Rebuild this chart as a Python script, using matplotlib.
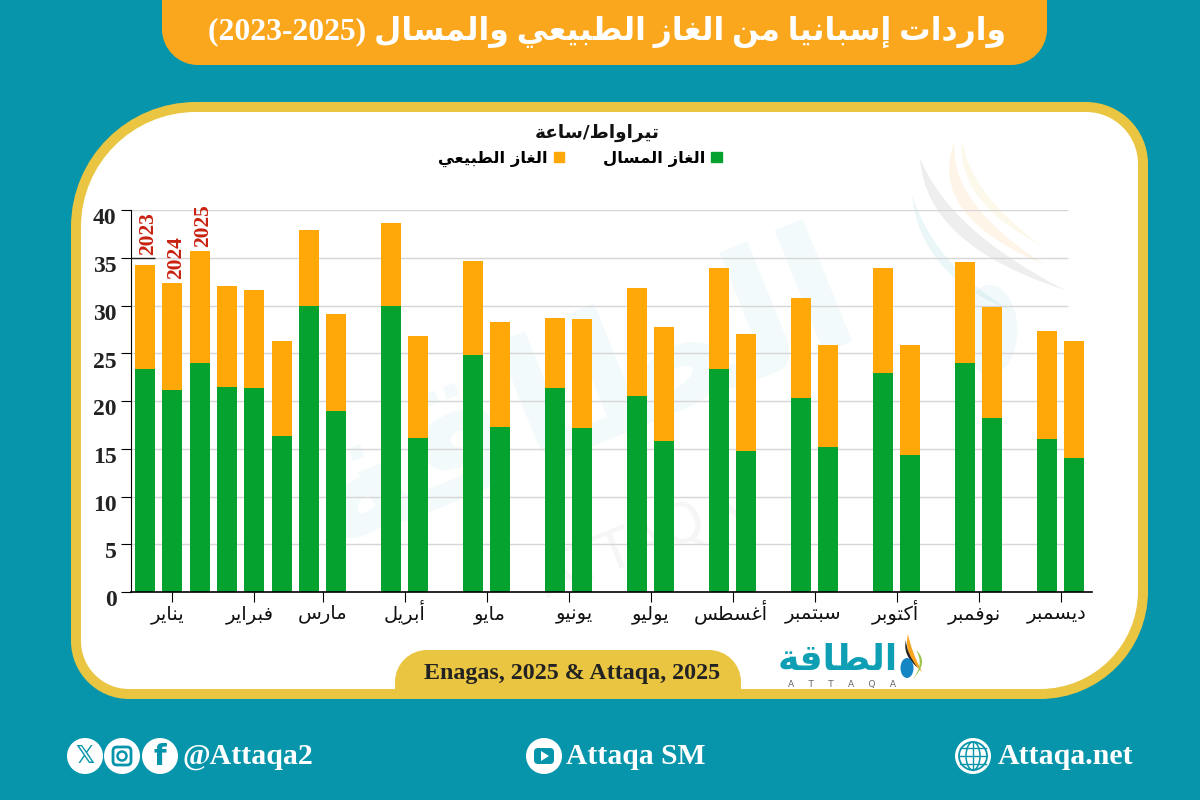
import numpy as np
import matplotlib
matplotlib.use('Agg')
import matplotlib.pyplot as plt
from matplotlib.path import Path
from matplotlib.patches import PathPatch, Circle, Ellipse, Patch, FancyBboxPatch, Polygon
from matplotlib.transforms import ScaledTranslation

# data
months = ['يناير', 'فبراير', 'مارس', 'أبريل', 'مايو', 'يونيو', 'يوليو',
          'أغسطس', 'سبتمبر', 'أكتوبر', 'نوفمبر', 'ديسمبر']
month_bars = [3, 3, 2, 2, 2, 2, 2, 2, 2, 2, 2, 2]
month_gap = [0, 0, 1, 1, 1, 1, 1, 1, 1, 1, 1, 1]
lng = [23.3, 21.1, 24.0, 21.5, 21.4, 16.3, 29.9, 19.0, 30.0, 16.1, 24.8, 17.3, 21.4,
       17.2, 20.5, 15.8, 23.4, 14.8, 20.3, 15.2, 22.9, 14.3, 24.0, 18.2, 16.0, 14.0]
gas = [10.9, 11.3, 11.7, 10.5, 10.2, 10.0, 8.0, 10.1, 8.6, 10.7, 9.9, 11.0, 7.3,
       11.4, 11.3, 11.9, 10.5, 12.2, 10.5, 10.7, 11.0, 11.6, 10.6, 11.6, 11.3, 12.3]
year_labels = ['2023', '2024', '2025']
year_pad = [7.5, 2.5, 3]
yticks = [0, 5, 10, 15, 20, 25, 30, 35, 40]
# month labels do not sit exactly under their ticks in the original (px)
label_shift = [-5, -5, 0, 0, 3, 6, 0, -2, -2, -1, -4, -4]

title = 'واردات إسبانيا من الغاز الطبيعي والمسال (2023-2025)'
unit = 'تيراواط/ساعة'
lng_name = 'الغاز المسال'
gas_name = 'الغاز الطبيعي'
source = 'Enagas, 2025 & Attaqa, 2025'

TEAL = '#0795AB'
GOLD = '#E9C541'
TITLE_BG = '#FBA71E'
GREEN = '#06A22F'
ORANGE = '#FFA807'
SERIF = 'Liberation Serif'

# matplotlib does no arabic shaping, so pick the presentation forms by hand
# letter: (isolated form, number of forms)
forms = {'ا': (0xFE8D, 2), 'أ': (0xFE83, 2), 'إ': (0xFE87, 2), 'ب': (0xFE8F, 4), 'ة': (0xFE93, 2),
         'ت': (0xFE95, 4), 'د': (0xFEA9, 2), 'ر': (0xFEAD, 2), 'ز': (0xFEAF, 2), 'س': (0xFEB1, 4),
         'ط': (0xFEC1, 4), 'ع': (0xFEC9, 4), 'غ': (0xFECD, 4), 'ف': (0xFED1, 4), 'ق': (0xFED5, 4),
         'ك': (0xFED9, 4), 'ل': (0xFEDD, 4), 'م': (0xFEE1, 4), 'ن': (0xFEE5, 4), 'و': (0xFEED, 2),
         'ي': (0xFEF1, 4)}

def shape_word(word):
    out = []
    for i, c in enumerate(word):
        if c not in forms:
            out.append(c)
            continue
        base, n = forms[c]
        prev_joins = i > 0 and word[i - 1] in forms and forms[word[i - 1]][1] == 4
        next_joins = i < len(word) - 1 and word[i + 1] in forms
        if n == 2:
            out.append(chr(base + 1 if prev_joins else base))
        elif prev_joins and next_joins:
            out.append(chr(base + 3))
        elif prev_joins:
            out.append(chr(base + 1))
        elif next_joins:
            out.append(chr(base + 2))
        else:
            out.append(chr(base))
    return ''.join(out[::-1])

def ar(text):
    words = [shape_word(w) if any(c in forms for c in w) else w for w in text.split(' ')]
    return ' '.join(words[::-1])

def round_box(x0, y0, x1, y1, tl, tr, br, bl):
    # y goes down, pixel coordinates of the background axes
    k = 0.5523
    v = [(x0 + tl, y0), (x1 - tr, y0),
         (x1 - tr + k * tr, y0), (x1, y0 + tr - k * tr), (x1, y0 + tr),
         (x1, y1 - br),
         (x1, y1 - br + k * br), (x1 - br + k * br, y1), (x1 - br, y1),
         (x0 + bl, y1),
         (x0 + bl - k * bl, y1), (x0, y1 - bl + k * bl), (x0, y1 - bl),
         (x0, y0 + tl),
         (x0, y0 + tl - k * tl), (x0 + tl - k * tl, y0), (x0 + tl, y0)]
    c = [Path.MOVETO, Path.LINETO, Path.CURVE4, Path.CURVE4, Path.CURVE4, Path.LINETO,
         Path.CURVE4, Path.CURVE4, Path.CURVE4, Path.LINETO, Path.CURVE4, Path.CURVE4, Path.CURVE4,
         Path.LINETO, Path.CURVE4, Path.CURVE4, Path.CURVE4]
    return Path(v, c)

def swoosh(ax, x0, y0, cx, cy, x1, y1, width, color, alpha, z=1):
    v = [(x0, y0), (cx, cy), (x1, y1), (cx + width, cy - width * 0.6), (x0, y0)]
    c = [Path.MOVETO, Path.CURVE3, Path.CURVE3, Path.CURVE3, Path.CURVE3]
    ax.add_patch(PathPatch(Path(v, c), fc=color, ec='none', alpha=alpha, zorder=z))

fig = plt.figure(figsize=(12, 8), dpi=100, facecolor=TEAL)

# background layer in pixels
bg = fig.add_axes([0, 0, 1, 1])
bg.set_xlim(0, 1200)
bg.set_ylim(800, 0)
bg.axis('off')

bg.add_patch(PathPatch(round_box(71, 102, 1148, 699, 125, 62, 108, 58), fc=GOLD, ec='none', zorder=0))
bg.add_patch(PathPatch(round_box(81, 112, 1138, 689, 115, 52, 98, 48), fc='white', ec='none', zorder=0.5))
bg.add_patch(PathPatch(round_box(162, -40, 1047, 65, 10, 10, 36, 36), fc=TITLE_BG, ec='none', zorder=1))
bg.text(607, 32, ar(title), family=[SERIF, 'DejaVu Sans'], weight='bold', fontsize=22.7, color='white',
        ha='center', va='center', zorder=3)

# watermark
bg.text(580, 395, ar('الطاقة'), family='DejaVu Sans', weight='bold', fontsize=125, color='#0795AB',
        alpha=0.05, rotation=22, ha='center', va='center', zorder=1)
bg.text(640, 545, 'ATTAQA', family='DejaVu Sans', fontsize=40, color='#888888',
        alpha=0.08, rotation=22, ha='center', va='center', zorder=1)
swoosh(bg, 955, 140, 925, 215, 1045, 265, 22, '#F9A51E', 0.10)
swoosh(bg, 962, 140, 955, 200, 1040, 245, 14, '#EAC542', 0.10)
swoosh(bg, 920, 158, 925, 245, 1065, 290, 24, '#777777', 0.12)
swoosh(bg, 912, 195, 920, 275, 1010, 310, 15, '#0795AB', 0.08)
bg.add_patch(Ellipse((990, 330), 55, 90, fc='#0795AB', ec='none', alpha=0.05, zorder=1))

# source tab and logo
bg.add_patch(PathPatch(round_box(395, 650, 741, 689, 32, 32, 0, 0), fc=GOLD, ec='none', zorder=1))
bg.text(572, 673, source, family=SERIF, weight='bold', fontsize=17.3, color='#222222',
        ha='center', va='center', zorder=3)
bg.text(838, 670, ar('الطاقة'), family='DejaVu Sans', weight='bold', fontsize=26, color='#0E9FB4',
        ha='center', va='baseline', zorder=3)
bg.text(842, 684, 'A     T     T     A     Q     A', family='DejaVu Sans', fontsize=6.5, color='#666666',
        ha='center', va='center', zorder=3)
swoosh(bg, 908, 634, 903, 655, 922, 672, 8, '#F9A51E', 1, 3)
swoosh(bg, 906, 640, 902, 655, 918, 668, 4, '#222222', 1, 3)
swoosh(bg, 916, 650, 925, 665, 912, 680, 5, '#9CC64A', 1, 3)
bg.add_patch(Ellipse((907, 668), 13, 20, fc='#1586C4', ec='none', zorder=4))

# footer
def icon(x, y=756, r=18):
    bg.add_patch(Circle((x, y), r, fc='white', ec='none', zorder=3))

icon(85)
bg.text(85, 756, '𝕏', family='DejaVu Sans', weight='bold', fontsize=17, color=TEAL, ha='center', va='center', zorder=4)
icon(122)
bg.add_patch(FancyBboxPatch((113, 747), 18, 18, boxstyle='round,pad=0,rounding_size=4', fc='none', ec=TEAL, lw=2, zorder=4))
bg.add_patch(Circle((122, 756), 4.5, fc='none', ec=TEAL, lw=1.8, zorder=4))
icon(160)
bg.text(160, 757, 'f', family='DejaVu Sans', weight='bold', fontsize=21, color=TEAL, ha='center', va='center', zorder=4)
bg.text(183, 757, '@Attaqa2', family=SERIF, weight='bold', fontsize=21.5, color='white', ha='left', va='center', zorder=3)
icon(544)
bg.add_patch(FancyBboxPatch((534, 748), 20, 16, boxstyle='round,pad=0,rounding_size=4', fc=TEAL, ec='none', zorder=4))
bg.add_patch(Polygon([(541, 751), (541, 761), (549, 756)], fc='white', ec='none', zorder=5))
bg.text(566, 757, 'Attaqa SM', family=SERIF, weight='bold', fontsize=21.3, color='white', ha='left', va='center', zorder=3)
icon(973)
bg.add_patch(Circle((973, 756), 14, fc='none', ec=TEAL, lw=1.3, zorder=4))
bg.add_patch(Ellipse((973, 756), 14, 28, fc='none', ec=TEAL, lw=1.1, zorder=4))
for yy in (748, 756, 764):
    bg.plot([960, 986], [yy, yy], color=TEAL, lw=1, zorder=4)
bg.plot([973, 973], [742, 770], color=TEAL, lw=1, zorder=4)
bg.text(998, 757, 'Attaqa.net', family=SERIF, weight='bold', fontsize=21.5, color='white', ha='left', va='center', zorder=3)

# chart, x is in bar slots 27.33 px wide, first bar centre at 145 px
slot = 27.33
ax = fig.add_axes([131 / 1200, 1 - 592 / 800, (1092 - 131) / 1200, (592 - 210) / 800])
ax.patch.set_alpha(0)
ax.set_xlim((131 - 145) / slot, (1092 - 145) / slot)
ax.set_ylim(0, 40)

pos = []
month_ticks = []
p = 0
for n, g in zip(month_bars, month_gap):
    group = [p + i for i in range(n)]
    pos += group
    month_ticks.append(np.mean(group))
    p += n + g
pos = np.array(pos)
lng = np.array(lng)
gas = np.array(gas)

ax.hlines(yticks[1:], ax.get_xlim()[0], (1068 - 145) / slot, color='#d6d6d6', lw=1, zorder=1)
ax.bar(pos, lng, width=0.73, color=GREEN, zorder=2)
ax.bar(pos, gas, width=0.73, bottom=lng, color=ORANGE, zorder=2)
# the dark stub at 35 that runs up to the first bar
ax.hlines(35, ax.get_xlim()[0], pos[0] + 0.36, color='#222222', lw=1, zorder=3)

for i, y in enumerate(year_labels):
    ax.annotate(y, (pos[i], lng[i] + gas[i]), xytext=(2.5, year_pad[i]), textcoords='offset points', rotation=90,
                family=SERIF, weight='bold', fontsize=15.5, color='#C8220F', ha='center', va='bottom', zorder=3)

for s in ('top', 'right'):
    ax.spines[s].set_visible(False)
ax.spines['left'].set_linewidth(0.8)
ax.spines['bottom'].set_linewidth(1.2)
ax.set_yticks(yticks)
ax.set_yticklabels([str(v) for v in yticks], family=SERIF, weight='bold', fontsize=17, color='#222222')
ax.tick_params(axis='y', length=7.5, width=0.8, pad=3)
off = ScaledTranslation(0, -4.5 / 72, fig.dpi_scale_trans)
for t in ax.get_yticklabels():
    t.set_transform(t.get_transform() + off)
ax.set_xticks(month_ticks)
ax.set_xticklabels([ar(m) for m in months], family='DejaVu Sans', fontsize=14, color='#111111', va='baseline')
ax.tick_params(axis='x', length=7, width=0.8, pad=12.5)
for t, dx in zip(ax.get_xticklabels(), label_shift):
    t.set_transform(t.get_transform() + ScaledTranslation(dx / 100, 0, fig.dpi_scale_trans))

# legend, handle on the right of the text as in the original
handles = [Patch(color=ORANGE), Patch(color=GREEN)]
fig.legend(handles, [ar(gas_name), ar(lng_name)], ncol=2, markerfirst=False, frameon=False,
           loc='center', bbox_to_anchor=(580 / 1200, 1 - 159 / 800), handlelength=0.62, handleheight=0.62,
           handletextpad=0.35, columnspacing=2.4, prop={'family': 'DejaVu Sans', 'weight': 'bold', 'size': 11.8})
fig.text(597 / 1200, 1 - 133 / 800, ar(unit), family='DejaVu Sans', weight='bold', fontsize=13.3,
         color='#111111', ha='center', va='center')

fig.savefig('out.png', dpi=100, facecolor=TEAL)
